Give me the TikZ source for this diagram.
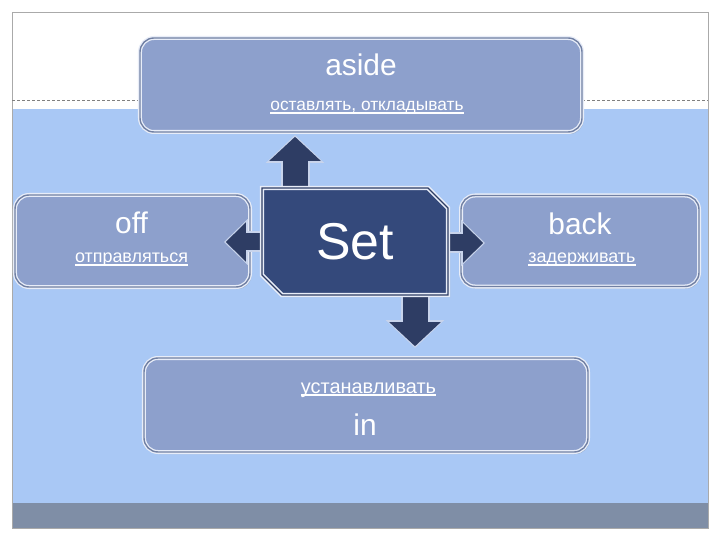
\documentclass[tikz,border=0pt]{standalone}
\usepackage{fontspec}
\setmainfont{Liberation Sans}
\usetikzlibrary{arrows.meta,shapes.misc,shadows}

\definecolor{paleblue}{RGB}{169,200,245}
\definecolor{boxfill}{RGB}{141,160,204}
\definecolor{boxedge}{RGB}{232,237,248}
\definecolor{setfill}{RGB}{52,73,123}
\definecolor{arrowfill}{RGB}{46,61,100}
\definecolor{arrowedge}{RGB}{200,212,236}
\definecolor{barfill}{RGB}{127,142,166}
\definecolor{framegray}{RGB}{170,170,170}

% underlined gloss text
\newcommand{\ulword}[1]{\setbox0\hbox{#1}\rlap{\rule[-2.6pt]{\wd0}{1.2pt}}\box0}

\pgfdeclarelayer{back}
\pgfdeclarelayer{boxes}
\pgfdeclarelayer{arrows}
\pgfsetlayers{back,boxes,arrows,main}

\tikzset{
  wordbox/.style={rounded corners=14bp, fill=boxfill, draw=boxedge,
    line width=1.3bp, double=boxfill!80!black, double distance=1.4bp,
    inner sep=0pt, drop shadow={shadow xshift=1.5bp, shadow yshift=-2bp,
    opacity=.35}},
  setbox/.style={chamfered rectangle, chamfered rectangle corners={north east,south west},
    chamfered rectangle sep=10bp, fill=setfill, draw=boxedge, line width=1.6bp,
    double=arrowfill, double distance=1.2bp, inner sep=0pt, text=white,
    font=\fontsize{52}{60}\selectfont, drop shadow={shadow xshift=2bp,
    shadow yshift=-2bp, opacity=.4}},
  headword/.style={text=white, anchor=base, inner sep=0pt, font=\fontsize{30}{36}\selectfont},
  gloss/.style={text=white, anchor=base, inner sep=0pt, font=\fontsize{18}{22}\selectfont},
  bigrim/.style={draw=arrowedge, line width=29bp, -{Triangle[length=28bp,width=57bp]}},
  bigcore/.style={draw=arrowfill, line width=25bp, -{Triangle[length=24bp,width=50bp]},
    shorten >=1.8bp},
  smallrim/.style={draw=arrowedge, line width=21bp, -{Triangle[length=24bp,width=45bp]}},
  smallcore/.style={draw=arrowfill, line width=17bp, -{Triangle[length=20bp,width=38bp]},
    shorten >=1.8bp}
}

\begin{document}
\begin{tikzpicture}[x=1bp,y=-1bp]
  \useasboundingbox (0,0) rectangle (720,540);

  % slide background
  \begin{pgfonlayer}{back}
    \fill[white] (0,0) rectangle (720,540);
    \fill[paleblue] (12,109) rectangle (708,503);
    \fill[barfill] (12,503) rectangle (708,528);
    \draw[framegray] (12,12) rectangle (708,528);
    \draw[gray, dash pattern=on 3bp off 2bp] (12,100) -- (708,100);
  \end{pgfonlayer}

  % word boxes
  \begin{pgfonlayer}{boxes}
    \node[wordbox, minimum width=442bp, minimum height=94bp] (aside) at (361,85) {};
    \node[wordbox, minimum width=235bp, minimum height=92bp] (off)   at (132.5,241) {};
    \node[wordbox, minimum width=238bp, minimum height=91bp] (back)  at (580,241) {};
    \node[wordbox, minimum width=444bp, minimum height=94bp] (in)    at (366,405) {};

    \node[headword] (asideword) at (361,76)   {aside};
    \node[gloss, font=\fontsize{17.4}{21}\selectfont] (asidegloss) at (367,111) {\ulword{оставлять, откладывать}};
    \node[headword] (offword)   at (131.5,234) {off};
    \node[gloss]    (offgloss)  at (131.5,263) {\ulword{отправляться}};
    \node[headword] (backword)  at (580,235)  {back};
    \node[gloss]    (backgloss) at (582,263)  {\ulword{задерживать}};
    \node[gloss, font=\fontsize{20}{24}\selectfont] (ingloss) at (368.5,393) {\ulword{устанавливать}};
    \node[headword] (inword)    at (365,435)  {in};
  \end{pgfonlayer}

  % centre box
  \node[setbox, minimum width=186bp, minimum height=107bp] (set) at (355,241.5) {Set};

  % block arrows
  \coordinate (uptip)    at (295,135);
  \coordinate (downtip)  at (415,348);
  \coordinate (lefttip)  at (224,242);
  \coordinate (righttip) at (485,243);

  \begin{pgfonlayer}{arrows}
    \draw[bigrim]    (set.center -| uptip)    -- (uptip);
    \draw[bigcore]   (set.center -| uptip)    -- (uptip);
    \draw[bigrim]    (set.center -| downtip)  -- (downtip);
    \draw[bigcore]   (set.center -| downtip)  -- (downtip);
    \draw[smallrim]  (set.center |- lefttip)  -- (lefttip);
    \draw[smallcore] (set.center |- lefttip)  -- (lefttip);
    \draw[smallrim]  (set.center |- righttip) -- (righttip);
    \draw[smallcore] (set.center |- righttip) -- (righttip);
  \end{pgfonlayer}

\end{tikzpicture}
\end{document}
